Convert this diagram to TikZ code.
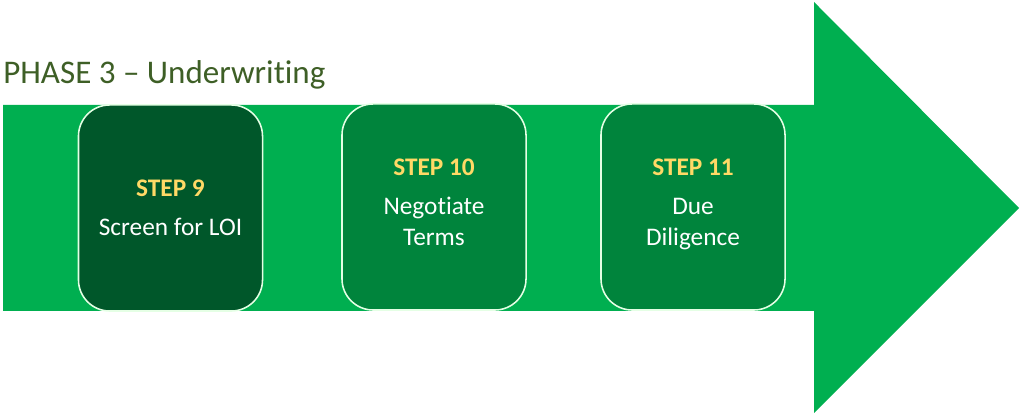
\documentclass[tikz,border=0pt]{standalone}
\usepackage{fontspec}
\setmainfont{Carlito}[Ligatures=NoCommon]
\definecolor{arrowgreen}{HTML}{00AF50}
\definecolor{boxgreen}{HTML}{00843C}
\definecolor{darkgreen}{HTML}{00572A}
\definecolor{titlegreen}{HTML}{3E5F26}
\definecolor{stepyellow}{HTML}{FFD966}
\newcommand{\stepno}[1]{{\bfseries\color{stepyellow}#1}}
\tikzset{
  stepbox/.style={draw=white!90!green, line width=1.1pt, rounded corners=0.78cm,
    minimum width=4.6cm, minimum height=5.15cm, text=white, align=center,
    font=\fontsize{18}{22}\selectfont, fill=boxgreen},
  phase/.style={anchor=base west, inner sep=0pt, text=titlegreen,
    font=\fontsize{23.5}{28}\selectfont}
}
\begin{document}
\begin{tikzpicture}[x=0.025cm,y=0.025cm]
\useasboundingbox (0,0) rectangle (1024,418);
% big arrow
\fill[arrowgreen] (3,313) -- (814,313) -- (814,416) -- (1019,210) -- (814,5) -- (814,107) -- (3,107) -- cycle;

\node[phase] (title) at (3,334) {PHASE 3 -- Underwriting};

\node[stepbox, fill=darkgreen] (s9) at (170.5,210) {\stepno{STEP 9}\\[6pt]Screen for LOI};
\node[stepbox, text depth=7pt] (s10) at (434,211) {\stepno{STEP 10}\\[6pt]Negotiate\\Terms};
\node[stepbox, text depth=7pt] (s11) at (693,211) {\stepno{STEP 11}\\[6pt]Due\\Diligence};

\end{tikzpicture}
\end{document}
